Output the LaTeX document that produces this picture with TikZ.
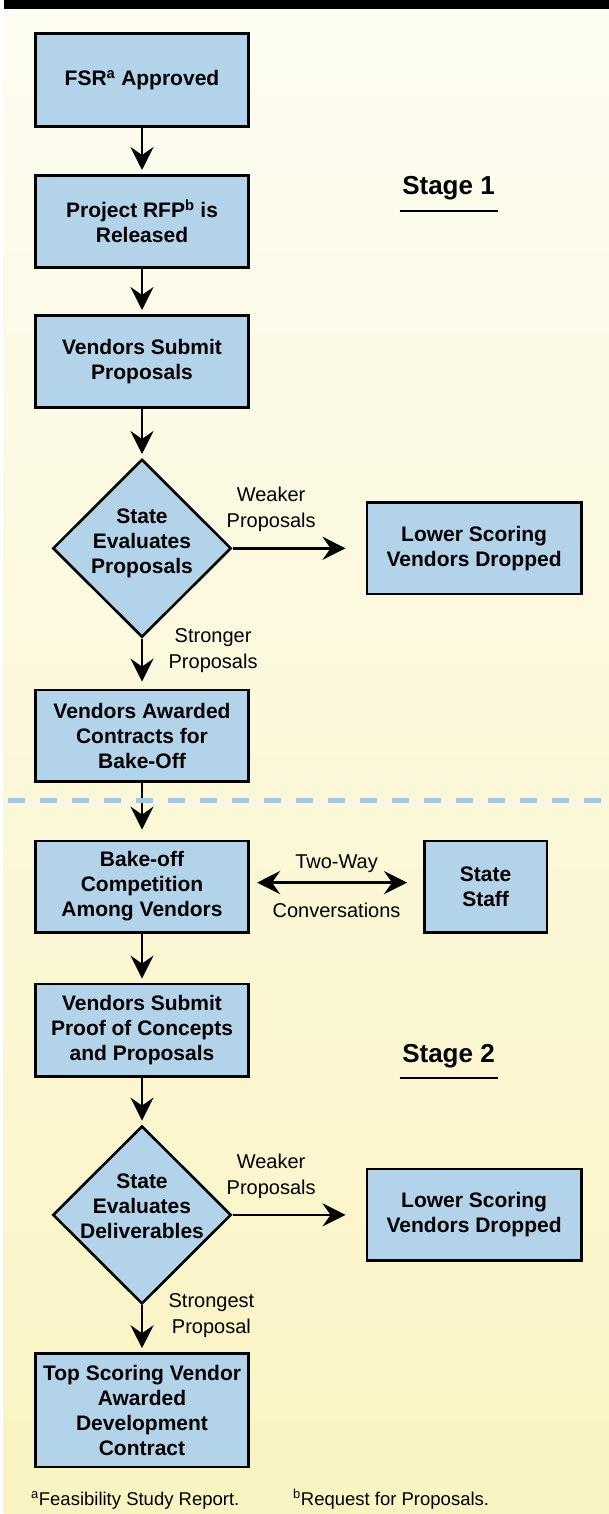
\documentclass[tikz,border=0pt]{standalone}
\usepackage{fontspec}
\setmainfont{Liberation Sans}
\usepackage{tikz}
\usetikzlibrary{shapes.geometric, positioning, arrows.meta}

\definecolor{paletop}{RGB}{253,252,242}
\definecolor{palebot}{RGB}{250,244,194}
\definecolor{boxblue}{RGB}{179,211,234}
\definecolor{lineblue}{RGB}{158,200,230}

\tikzset{
	flow/.style={line width=2.6pt, shorten >=4pt, -{Stealth[length=23pt, width=23pt, inset=8pt]}}, % the black connectors
	twoway/.style={line width=2.6pt, {Stealth[length=23pt, width=23pt, inset=8pt]}-{Stealth[length=23pt, width=23pt, inset=8pt]}},
	stepbox/.style={draw, line width=2.6pt, fill=boxblue, minimum width=213.5pt, minimum height=92.4pt, align=center, font=\bfseries\fontsize{21}{25}\selectfont}, % blue process boxes
	decide/.style={diamond, draw, line width=2.6pt, fill=boxblue, aspect=1, inner sep=0pt, minimum width=178.5pt, minimum height=178pt}, % decisions, text goes on top
	boxtext/.style={align=center, font=\bfseries\fontsize{21}{25}\selectfont},
	edgelabel/.style={align=center, font=\fontsize{20}{26}\selectfont},
	stagename/.style={font=\bfseries\fontsize{26}{30}\selectfont, anchor=base},
	notetext/.style={font=\fontsize{18.5}{22}\selectfont, anchor=base west, inner sep=0pt},
}

\begin{document}
\begin{tikzpicture}[x=1pt, y=-1pt]
	% page: pale gradient with the black rule on top
	\useasboundingbox (0,0) rectangle (609,1514);
	\fill[white] (0,0) rectangle (609,1514);
	\shade[top color=paletop, bottom color=palebot] (3.5,0) rectangle (609,1514);
	\fill[black] (3.5,0) rectangle (609,9.5);

	% stage 1
	\node[stepbox, minimum height=93.4pt] (fsr) at (142,80) {FSR\textsuperscript{a} Approved};
	\node[stepbox, below=46pt of fsr] (rfp) {Project RFP\textsuperscript{b} is\\Released};
	\node[stepbox, below=45pt of rfp] (subm) {Vendors Submit\\Proposals};
	\node[decide, below=49pt of subm] (eval1) {};
	\node[boxtext] (eval1txt) at ([yshift=5pt]eval1.center) {State\\Evaluates\\Proposals};
	\node[stepbox, minimum width=214.5pt, minimum height=91.5pt, right=133pt of eval1] (drop1) {Lower Scoring\\Vendors Dropped};
	\node[stepbox, minimum height=91.4pt, below=50pt of eval1] (award) {Vendors Awarded\\Contracts for\\Bake-Off};

	% stage 2
	\node[stepbox, minimum height=91.4pt, below=57pt of award] (bake) {Bake-off\\Competition\\Among Vendors};
	\node[stepbox, minimum width=122.5pt, minimum height=91.5pt, right=173pt of bake] (staff) {State\\Staff};
	\node[stepbox, below=49pt of bake] (proof) {Vendors Submit\\Proof of Concepts\\and Proposals};
	\node[decide, below=47pt of proof] (eval2) {};
	\node[boxtext] (eval2txt) at ([yshift=9pt]eval2.center) {State\\Evaluates\\Deliverables};
	\node[stepbox, minimum width=214.5pt, minimum height=91.5pt, right=133pt of eval2] (drop2) {Lower Scoring\\Vendors Dropped};
	\node[stepbox, minimum height=113.4pt, below=47pt of eval2] (winner) {Top Scoring Vendor\\Awarded\\Development\\Contract};

	\draw[flow] (fsr) -- (rfp);
	\draw[flow] (rfp) -- (subm);
	\draw[flow] (subm) -- (eval1);
	\draw[flow, shorten >=20pt] (eval1) -- node[edgelabel, pos=0.29, above=12pt] (weak1) {Weaker\\Proposals} (drop1);
	\draw[flow, shorten >=7pt] (eval1) -- node[edgelabel, pos=0.23, right=22pt] (strong1) {Stronger\\Proposals} (award);
	\draw[flow, shorten >=10pt] (award) -- (bake);
	\draw[twoway, shorten <=7pt, shorten >=16pt] ([yshift=4pt]bake.east) -- ([yshift=4pt]bake.east -| staff.west)
		node[edgelabel, midway, above=5pt] (talk1) {Two-Way}
		node[edgelabel, midway, below=16pt] (talk2) {Conversations};
	\draw[flow] (bake) -- (proof);
	\draw[flow] (proof) -- (eval2);
	\draw[flow, shorten >=20pt] (eval2) -- node[edgelabel, pos=0.29, above=12pt] (weak2) {Weaker\\Proposals} (drop2);
	\draw[flow] (eval2) -- node[edgelabel, pos=0.22, right=22pt] (strong2) {Strongest\\Proposal} (winner);

	% split between the stages
	\draw[lineblue, line width=5pt, dash pattern=on 17pt off 15pt] (8,800) -- (609,800);

	\node[stagename] (stage1) at (448.5,195) {Stage 1};
	\draw[line width=2.8pt] ([xshift=-49pt, yshift=-16pt]stage1.base) -- ([xshift=49pt, yshift=-16pt]stage1.base);
	\node[stagename] (stage2) at (448.5,1062) {Stage 2};
	\draw[line width=2.8pt] ([xshift=-49pt, yshift=-16pt]stage2.base) -- ([xshift=49pt, yshift=-16pt]stage2.base);

	% footnotes
	\node[notetext] (fna) at (31,1505) {\textsuperscript{a}Feasibility Study Report.};
	\node[notetext] (fnb) at (293,1505) {\textsuperscript{b}Request for Proposals.};
\end{tikzpicture}
\end{document}
